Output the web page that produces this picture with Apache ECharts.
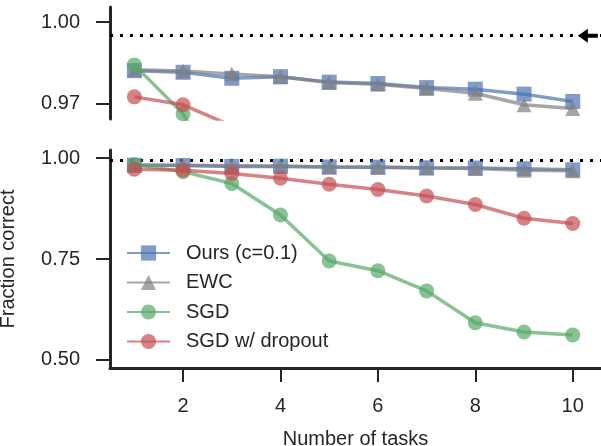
<!DOCTYPE html>
<html>
<head>
<meta charset="utf-8">
<script src="https://cdn.jsdelivr.net/npm/echarts@6/dist/echarts.min.js"></script>
<style>html,body{margin:0;padding:0;background:#fff}#c{width:601px;height:446px}</style>
</head>
<body>
<div id="c"></div>
<script>
const tasks = [1, 2, 3, 4, 5, 6, 7, 8, 9, 10];
const ours = [0.9822, 0.9816, 0.9794, 0.9800, 0.9780, 0.9775, 0.9760, 0.9754, 0.9736, 0.9709];
const ewc = [0.9825, 0.9821, 0.9810, 0.9800, 0.9779, 0.9772, 0.9757, 0.9739, 0.9697, 0.9683];
const sgd = [0.9843, 0.9664, 0.937, 0.859, 0.745, 0.721, 0.671, 0.592, 0.569, 0.562];
const sgdDropout = [0.9726, 0.9697, 0.962, 0.950, 0.935, 0.922, 0.906, 0.885, 0.851, 0.838];
const seriesNames = ['Ours (c=0.1)', 'EWC', 'SGD', 'SGD w/ dropout'];
const xTicks = [2, 4, 6, 8, 10];
const topTicks = [0.97, 1.00];
const bottomTicks = [0.50, 0.75, 1.00];
const baseline = 0.995;
const arrowX = 10.31;

const FONT = 'Liberation Sans';
const TXT = '#262626';
const styles = [
  { symbol: 'rect', size: 15, color: 'rgb(76,114,176)' },
  { symbol: 'triangle', size: 15, color: 'rgb(128,128,128)' },
  { symbol: 'circle', size: 15, color: 'rgb(85,168,104)' },
  { symbol: 'circle', size: 15, color: 'rgb(196,78,82)' }
];
const allData = [ours, ewc, sgd, sgdDropout];

const dotted = { type: [3, 7], width: 3, color: '#000', opacity: 1 };

function mk(i, gridIdx) {
  const s = styles[i];
  const o = {
    name: seriesNames[i],
    type: 'line',
    xAxisIndex: gridIdx,
    yAxisIndex: gridIdx,
    data: tasks.map((t, k) => [t, allData[i][k]]),
    symbol: s.symbol,
    symbolSize: s.size,
    showAllSymbol: true,
    clip: true,
    color: s.color,
    lineStyle: { width: 3.5, color: s.color, opacity: 0.7 },
    itemStyle: { color: s.color, opacity: 0.7 },
    emphasis: { disabled: true },
    z: 3 + i
  };
  if (i === 0) {
    o.markLine = { symbol: 'none', silent: true, precision: 4, label: { show: false }, lineStyle: dotted,
      emphasis: { disabled: true }, z: 1, data: [{ yAxis: baseline }] };
    if (gridIdx === 0) {
      o.markPoint = { silent: true, precision: 4, label: { show: false },
        data: [{ coord: [arrowX, baseline], symbol: 'path://M0,7 L10,0 L10,5 L20,5 L20,9 L10,9 L10,14 Z',
          symbolSize: [20, 14], itemStyle: { color: '#000', opacity: 1 } }] };
    }
  }
  return o;
}

const series = [];
for (let g = 0; g < 2; g++) for (let i = 0; i < 4; i++) series.push(mk(i, g));

const axisLbl = { color: TXT, fontFamily: FONT, fontSize: 20 };
const spine = { show: true, lineStyle: { color: TXT, width: 3 } };
const tick = { show: true, length: 14, lineStyle: { color: TXT, width: 2 } };

const option = {
  animation: false,
  backgroundColor: '#fff',
  textStyle: { fontFamily: FONT },
  grid: [
    { left: 110, top: 7, width: 491, height: 112, outerBoundsMode: 'none', containLabel: false },
    { left: 110, top: 150, width: 491, height: 218, outerBoundsMode: 'none', containLabel: false }
  ],
  xAxis: [
    { type: 'value', gridIndex: 0, min: 0.5, max: 10.58, show: false },
    { type: 'value', gridIndex: 1, min: 0.5, max: 10.58,
      axisLine: spine, splitLine: { show: false },
      axisTick: Object.assign({ customValues: xTicks }, tick),
      axisLabel: Object.assign({ customValues: xTicks, margin: 28 }, axisLbl),
      name: 'Number of tasks', nameLocation: 'middle', nameGap: 61,
      nameTextStyle: { color: TXT, fontFamily: FONT, fontSize: 20 } }
  ],
  yAxis: [
    { type: 'value', gridIndex: 0, min: 0.9645, max: 1.0055,
      axisLine: spine, splitLine: { show: false },
      axisTick: Object.assign({ customValues: topTicks }, tick),
      axisLabel: Object.assign({ customValues: topTicks, margin: 30, formatter: v => v.toFixed(2) }, axisLbl) },
    { type: 'value', gridIndex: 1, min: 0.48, max: 1.02,
      axisLine: spine, splitLine: { show: false },
      axisTick: Object.assign({ customValues: bottomTicks }, tick),
      axisLabel: Object.assign({ customValues: bottomTicks, margin: 30, formatter: v => v.toFixed(2) }, axisLbl),
      name: 'Fraction correct', nameLocation: 'middle', nameGap: 92,
      nameTextStyle: { color: TXT, fontFamily: FONT, fontSize: 20 } }
  ],
  legend: {
    data: seriesNames,
    orient: 'vertical',
    left: 121, top: 238,
    padding: 5,
    itemWidth: 43, itemHeight: 19, itemGap: 9.5,
    textStyle: { color: TXT, fontFamily: FONT, fontSize: 20, lineHeight: 19, padding: [0, 0, 0, 11] },
    selectedMode: false
  },
  series: series
};

const chart = echarts.init(document.getElementById('c'), null, { renderer: 'canvas' });
chart.setOption(option);
</script>
</body>
</html>
